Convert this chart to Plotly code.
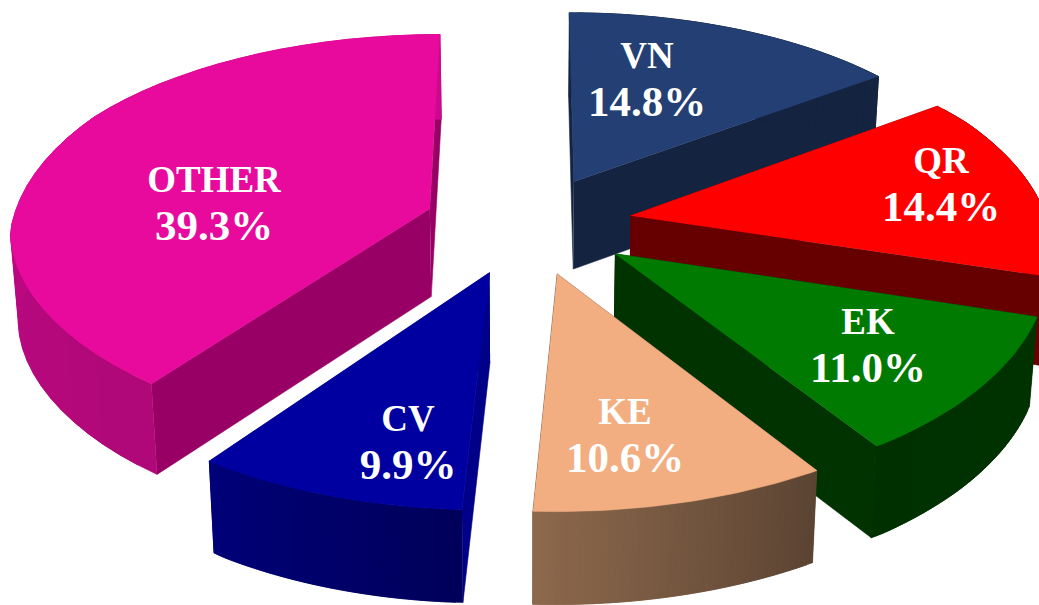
import numpy as np
import plotly.graph_objects as go

# ---- data ----
categories = ["VN", "QR", "EK", "KE", "CV", "OTHER"]
shares = [14.8, 14.4, 11.0, 10.6, 9.9, 39.3]

# ---- styles ----
top_colors = ["#233F73", "#FF0000", "#007A00", "#F2AE80", "#0000A0", "#E80A9C"]
cut_colors = ["#14233F", "#660000", "#003300", "#5C4433", "#000088", "#990066"]
wall_from = [(20, 35, 63), (102, 0, 0), (0, 51, 0), (92, 68, 51), (0, 0, 90), (176, 8, 120)]
wall_to = [(20, 35, 63), (102, 0, 0), (0, 48, 0), (140, 104, 76), (0, 0, 120), (204, 8, 142)]
draw_order = ["VN", "OTHER", "QR", "EK", "KE", "CV"]
label_x = [647, 941, 868, 625, 408, 214]
label_y = [82, 187, 348, 438, 445, 206]

# ---- camera ----
CX, CY = 528.0, 225.0
AX, AY = 420.0, 198.0
PERSP_BACK = 0.1156
PERSP_FRONT_X = 0.05
EXPLODE = 0.25
DEPTH = 88.0
SAG = 8.0
SKEW = 4.0
RIGHT_GAIN = 9.0
CONVERGE = 0.985
LINE_GAP = 23


def project(U, V, down=False):
    s = 1.0 / (1.0 + PERSP_BACK * V)
    sx = 1.0 / (1.0 + np.where(V > 0, PERSP_BACK, PERSP_FRONT_X) * V)
    x = CX + AX * U * sx - SKEW * np.clip(-V, 0, 1)
    x = x + RIGHT_GAIN * np.clip(U, 0, 1) * np.clip(-3 * V, 0, 1)
    y = CY - AY * V * s
    if down:
        x = CX + (x - CX) * CONVERGE
        y = y + DEPTH * s ** 0.35
    return x, y


def poly(fig, xs, ys, color):
    fig.add_trace(go.Scatter(
        x=list(xs), y=list(ys), mode="lines", fill="toself", fillcolor=color,
        line=dict(color=color, width=0.6), hoverinfo="skip", showlegend=False))


fig = go.Figure()
edges = np.cumsum([0.0] + shares) / sum(shares) * 2 * np.pi

for name in draw_order:
    i = categories.index(name)
    a0, a1 = edges[i], edges[i + 1]
    mid = (a0 + a1) / 2
    ox, oy = EXPLODE * np.sin(mid), EXPLODE * np.cos(mid)
    th = np.linspace(a0, a1, 41)
    U = ox + np.sin(th)
    V = oy + np.cos(th)
    tx, ty = project(U, V)
    bx, by = project(U, V, True)
    local_v = np.cos(th)
    sag = SAG * np.clip((0.5 - local_v) / 0.5, 0, 1) * np.clip((local_v + 1) / 0.2, 0, 1)
    ty = ty + sag
    by = by + sag
    ax_t, ay_t = project(np.array([ox]), np.array([oy]))
    ax_b, ay_b = project(np.array([ox]), np.array([oy]), True)

    # radial cut faces
    poly(fig, [ax_t[0], tx[0], bx[0], ax_b[0]], [ay_t[0], ty[0], by[0], ay_b[0]], cut_colors[i])
    poly(fig, [ax_t[0], tx[-1], bx[-1], ax_b[0]], [ay_t[0], ty[-1], by[-1], ay_b[0]], cut_colors[i])

    # curved outer wall as overlapping shaded strips
    n = len(th)
    for k in range(n - 1):
        t = k / (n - 2)
        c = [round(p + (q - p) * t) for p, q in zip(wall_from[i], wall_to[i])]
        e = min(k + 2, n - 1)
        poly(fig, [tx[k], tx[k + 1], tx[e], bx[e], bx[k + 1], bx[k]],
             [ty[k], ty[k + 1], ty[e], by[e], by[k + 1], by[k]],
             f"rgb({c[0]},{c[1]},{c[2]})")

    # top face
    poly(fig, np.r_[ax_t, tx], np.r_[ay_t, ty], top_colors[i])

fig.add_trace(go.Scatter(
    x=label_x, y=[y - LINE_GAP for y in label_y], mode="text",
    text=[f"<b>{c}</b>" for c in categories],
    textposition="middle center",
    textfont=dict(family="Liberation Serif", size=37, color="#FFFFFF"),
    hoverinfo="skip", showlegend=False))
fig.add_trace(go.Scatter(
    x=label_x, y=[y + LINE_GAP for y in label_y], mode="text",
    text=[f"<b>{v:.1f}%</b>" for v in shares],
    textposition="middle center",
    textfont=dict(family="Liberation Serif", size=43, color="#FFFFFF"),
    hoverinfo="skip", showlegend=False))

fig.update_layout(
    width=1039, height=605, margin=dict(l=0, r=0, t=0, b=0),
    paper_bgcolor="#FFFFFF", plot_bgcolor="#FFFFFF",
    xaxis=dict(range=[0, 1039], visible=False, fixedrange=True),
    yaxis=dict(range=[605, 0], visible=False, fixedrange=True),
)
fig.write_html("out.html", config={"displayModeBar": False},
               post_script="document.body.style.margin='0';document.documentElement.style.overflow='hidden';")
